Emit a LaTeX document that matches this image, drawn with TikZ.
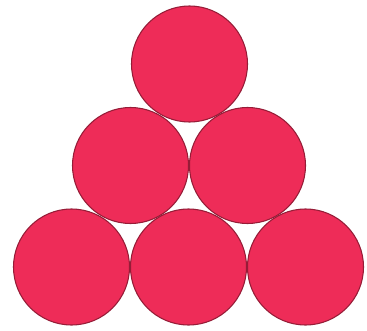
\documentclass[tikz,border=0pt]{standalone}
\definecolor{ballfill}{RGB}{238,44,88}
\definecolor{balledge}{RGB}{150,28,55}
\tikzset{ball/.style={circle, fill=ballfill, draw=balledge, line width=3pt, minimum size=11.6cm, inner sep=0pt}}
\begin{document}
\begin{tikzpicture}[x=0.1cm,y=-0.1cm]
\useasboundingbox (0,0) rectangle (367,331);
\fill[white] (0,0) rectangle (367,331);
\node[ball] (t) at (189.5,64) {};
\node[ball] (ml) at (130.5,165.5) {};
\node[ball] (mr) at (247.5,165.5) {};
\node[ball] (bl) at (71.5,267) {};
\node[ball] (bm) at (188.5,267) {};
\node[ball] (br) at (305.5,267) {};
\end{tikzpicture}
\end{document}
